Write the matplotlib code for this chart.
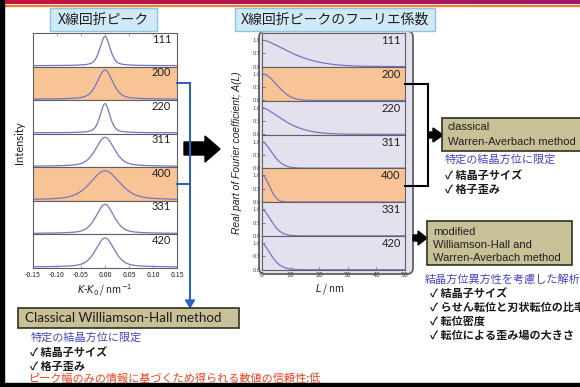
import numpy as np
import matplotlib
matplotlib.use('Agg')
import matplotlib.pyplot as plt
from matplotlib.patches import Rectangle, Polygon, FancyBboxPatch
from matplotlib.colors import LinearSegmentedColormap

plt.rcParams['font.family'] = ['Noto Sans CJK JP', 'DejaVu Sans']

W, H = 580, 387

reflections = ['111', '200', '220', '311', '400', '331', '420']
highlighted = ['200', '400']

# peak width (FWHM, nm^-1) of each reflection
peak_fwhm = [0.025, 0.038, 0.024, 0.046, 0.072, 0.044, 0.046]
# Fourier coefficients A(L): length (nm) where A = 0.5, and decay shape exponent
a_half_length = [10.6, 5.9, 8.0, 4.0, 3.0, 3.6, 3.5]
a_shape = [1.5, 2.0, 1.5, 1.7, 2.0, 1.7, 1.6]

k_ticks = [-0.15, -0.10, -0.05, 0.00, 0.05, 0.10, 0.15]
l_ticks = [0, 10, 20, 30, 40, 50]
a_ticks = [0.0, 0.5, 1.0]

ORANGE = '#f8c496'
LAVENDER = '#e4e0ee'
LINE = '#7676c4'
BOX = '#c8c096'
BLUE_TXT = '#4444c4'
RED_TXT = '#f0401c'


def rect(x0, y0, x1, y1):
    return [x0 / W, 1 - y1 / H, (x1 - x0) / W, (y1 - y0) / H]


def pseudo_voigt(x, fwhm, eta=0.45):
    g = np.exp(-4 * np.log(2) * x ** 2 / fwhm ** 2)
    lor = 1 / (1 + 4 * x ** 2 / fwhm ** 2)
    return eta * lor + (1 - eta) * g


fig = plt.figure(figsize=(W / 100, H / 100), dpi=100)

# background layer
bg = fig.add_axes([0, 0, 1, 1], zorder=0)
bg.set_xlim(0, W)
bg.set_ylim(H, 0)
bg.axis('off')

grad = LinearSegmentedColormap.from_list('bar', ['#c4143c', '#a0186c'])
bg.imshow(np.linspace(0, 1, 256)[None, :], cmap=grad, aspect='auto',
          extent=(0, W, 4.5, 0), zorder=1)
bg.add_patch(Rectangle((0, 4.5), W, 1.2, color='#e8803a', zorder=1))
bg.add_patch(Rectangle((0, 0), 3.5, H, color='black', zorder=2))
bg.add_patch(Rectangle((0, 383), W, 4, color='black', zorder=2))

# rounded frame behind the Fourier coefficient panel
bg.add_patch(FancyBboxPatch((259, 31), 154, 243,
                            boxstyle='round,pad=0,rounding_size=6',
                            facecolor=LAVENDER, edgecolor='#606060', lw=1.3, zorder=1))

# ---- left panel: diffraction peaks
k = np.linspace(-0.15, 0.15, 600)
left_edges = np.linspace(33, 268, len(reflections) + 1)
for i, name in enumerate(reflections):
    ax = fig.add_axes(rect(33, left_edges[i], 177, left_edges[i + 1]), zorder=2)
    ax.set_facecolor(ORANGE if name in highlighted else 'white')
    ax.plot(k, pseudo_voigt(k, peak_fwhm[i]), color=LINE, lw=0.9)
    ax.set_xlim(-0.15, 0.15)
    ax.set_ylim(-0.03, 1.12)
    ax.set_yticks([])
    ax.set_xticks(k_ticks)
    ax.tick_params(axis='x', direction='in', length=2, width=0.5, colors='#808080',
                   top=(i == 0), bottom=(i == len(reflections) - 1),
                   labelbottom=(i == len(reflections) - 1), labelsize=5, pad=2.5,
                   labelcolor='#202020')
    for s in ax.spines.values():
        s.set_color('#606060')
        s.set_linewidth(0.8)
    ax.text(0.96, 0.82, name, transform=ax.transAxes, ha='right', va='center',
            fontsize=8, family=['Lato', 'DejaVu Sans'], color='#202020')
    if i == len(reflections) - 1:
        ax.set_xticklabels([f'{t:.2f}' for t in k_ticks])

# ---- right panel: Fourier coefficients
L = np.linspace(0, 50, 400)
right_edges = np.linspace(33, 270, len(reflections) + 1)
for i, name in enumerate(reflections):
    ax = fig.add_axes(rect(262, right_edges[i], 405, right_edges[i + 1]), zorder=2)
    ax.set_facecolor(ORANGE if name in highlighted else LAVENDER)
    a = 0.5 ** ((L / a_half_length[i]) ** a_shape[i])
    ax.plot(L, a, color=LINE, lw=0.9)
    ax.set_xlim(0, 50)
    ax.set_ylim(-0.01, 1.26)
    ax.set_yticks(a_ticks)
    ax.set_yticklabels([f'{t:.1f}' for t in a_ticks])
    ax.set_xticks(l_ticks)
    ax.tick_params(axis='y', direction='in', length=2, width=0.5, labelsize=4.3,
                   pad=1, colors='#505050')
    ax.tick_params(axis='x', direction='in', length=2, width=0.5, colors='#505050',
                   top=False, bottom=(i == len(reflections) - 1),
                   labelbottom=(i == len(reflections) - 1), labelsize=5, pad=1)
    for s in ax.spines.values():
        s.set_color('#606060')
        s.set_linewidth(0.8)
    ax.text(0.97, 0.78, name, transform=ax.transAxes, ha='right', va='center',
            fontsize=8, family=['Lato', 'DejaVu Sans'], color='#202020')

# ---- overlay: titles, arrows, method boxes and notes
ov = fig.add_axes([0, 0, 1, 1], zorder=5)
ov.set_xlim(0, W)
ov.set_ylim(H, 0)
ov.axis('off')
ov.patch.set_alpha(0)

for (x0, x1), title in [((50, 157), 'X線回折ピーク'), ((235, 435), 'X線回折ピークのフーリエ係数')]:
    ov.add_patch(Rectangle((x0, 8), x1 - x0, 23, facecolor='#cfe9f6',
                           edgecolor='#8ec4e0', lw=1))
    ov.text((x0 + x1) / 2, 19.5, title, ha='center', va='center', fontsize=10,
            color='#202020')

ov.text(20, 143, 'Intensity', rotation=90, ha='center', va='center', fontsize=8,
        family=['Lato', 'DejaVu Sans'], color='#202020')
ov.text(105, 290, r'$K$-$K_0$ / nm$^{-1}$', ha='center', va='center', fontsize=7,
        color='#202020')
ov.text(237, 153, 'Real part of Fourier coefficient; A(L)', rotation=90,
        ha='center', va='center', fontsize=7.4, style='italic',
        family=['Liberation Sans', 'DejaVu Sans'], color='#202020')
ov.text(330, 289, r'$L$ / nm', ha='center', va='center', fontsize=7, color='#202020')

# big arrow between the two panels
ov.add_patch(Polygon([(184, 142), (205, 142), (205, 136), (220, 149), (205, 162),
                      (205, 155), (184, 155)], closed=True, color='black'))

# blue bracket down to the Williamson-Hall box
blue = '#2e62c0'
ov.plot([177, 190], [83, 83], color=blue, lw=1.5)
ov.plot([177, 190], [184, 184], color=blue, lw=1.5)
ov.plot([190, 190], [83, 301], color=blue, lw=1.5)
ov.add_patch(Polygon([(185.5, 300), (194.5, 300), (190, 307.5)], closed=True, color=blue))

# black bracket to the classical Warren-Averbach box
ov.plot([405, 428], [84, 84], color='black', lw=1.5)
ov.plot([428, 428], [84, 186], color='black', lw=1.5)
ov.plot([405, 428], [186, 186], color='black', lw=1.5)
ov.add_patch(Polygon([(428, 132), (433, 132), (433, 128), (443, 135), (433, 142),
                      (433, 138), (428, 138)], closed=True, color='black'))
ov.add_patch(Polygon([(413, 235), (418, 235), (418, 231), (427, 238), (418, 245),
                      (418, 241), (413, 241)], closed=True, color='black'))

# method boxes
ov.add_patch(Rectangle((18, 308), 221, 20, facecolor=BOX, edgecolor='#303020', lw=1.2))
ov.text(25, 318.5, 'Classical Williamson-Hall method', ha='left', va='center',
        fontsize=9.6, family=['Lato', 'DejaVu Sans'], color='#1a1a1a')

ov.add_patch(Rectangle((442, 118), 160, 33, facecolor=BOX, edgecolor='#303020', lw=1.2))
ov.text(448, 127.5, 'classical', ha='left', va='center', fontsize=8,
        family=['Liberation Sans', 'DejaVu Sans'], color='#202020')
ov.text(448, 142, 'Warren-Averbach method', ha='left', va='center', fontsize=8,
        family=['Liberation Sans', 'DejaVu Sans'], color='#202020')

ov.add_patch(Rectangle((427, 221), 145, 44, facecolor=BOX, edgecolor='#303020', lw=1.2))
for y, line in zip([232, 245, 258], ['modified', 'Williamson-Hall and', 'Warren-Averbach method']):
    ov.text(433, y, line, ha='left', va='center', fontsize=8,
            family=['Liberation Sans', 'DejaVu Sans'], color='#202020')

# notes under each method
ov.text(31, 338, '特定の結晶方位に限定', ha='left', va='center', fontsize=8,
        color=BLUE_TXT)
ov.text(30, 352, '✓ 結晶子サイズ', ha='left', va='center', fontsize=8,
        weight='bold', color='#1a1a1a')
ov.text(30, 366, '✓ 格子歪み', ha='left', va='center', fontsize=8,
        weight='bold', color='#1a1a1a')
ov.text(29, 379, 'ピーク幅のみの情報に基づくため得られる数値の信頼性:低', ha='left',
        va='center', fontsize=8, color=RED_TXT)

ov.text(445, 160, '特定の結晶方位に限定', ha='left', va='center', fontsize=8,
        color=BLUE_TXT)
ov.text(445, 175, '✓ 結晶子サイズ', ha='left', va='center', fontsize=8,
        weight='bold', color='#1a1a1a')
ov.text(445, 189, '✓ 格子歪み', ha='left', va='center', fontsize=8,
        weight='bold', color='#1a1a1a')

ov.text(425, 280, '結晶方位異方性を考慮した解析', ha='left', va='center', fontsize=8,
        color=BLUE_TXT)
for y, line in zip([293, 307, 321, 335],
                   ['✓ 結晶子サイズ', '✓ らせん転位と刃状転位の比率', '✓ 転位密度',
                    '✓ 転位による歪み場の大きさ']):
    ov.text(430, y, line, ha='left', va='center', fontsize=8, weight='bold',
            color='#1a1a1a')

fig.savefig('out.png', dpi=100)
